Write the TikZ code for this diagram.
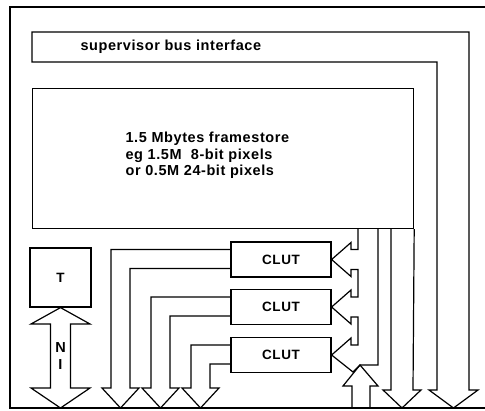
\documentclass[tikz,border=0pt]{standalone}
\usepackage{fontspec}
\newfontfamily\labelfont{Liberation Sans}[LetterSpace=4]
\usetikzlibrary{positioning, calc}
\tikzset{
    block/.style={rectangle, draw, inner sep=0pt, font=\labelfont\bfseries\fontsize{13.5}{16.5}\selectfont},
    caption/.style={inner sep=0pt, align=left, font=\labelfont\bfseries\fontsize{14.5}{16.5}\selectfont},
    wide arrow/.style={draw, line join=miter}
}

\begin{document}
\begin{tikzpicture}[x=1pt, y=-1pt, line width=1.2pt]
    \useasboundingbox (0,0) rectangle (485,410);
    % outer frame
    \draw (485,7) -- (10,7) -- (10,408) -- (485,408);

    % supervisor bus interface, bent down into an arrow
    \draw[wide arrow] (32,32) -- (469,32) -- (469,390) -- (478,390) -- (453.5,408)
        -- (429,390) -- (437,390) -- (437,62) -- (32,62) -- cycle;
    \node[caption, anchor=west] (sbi) at (80,47) {supervisor bus interface};

    % framestore and its output
    \node[block, minimum width=381pt, minimum height=140pt, anchor=north west] (fstore) at (32,88) {};
    \node[caption, anchor=west] (fstext) at (125,155.5) {1.5 Mbytes framestore\\eg 1.5M\ \ 8-bit pixels\\or 0.5M 24-bit pixels};
    \draw[wide arrow] (fstore.south east) -- (413,390) -- (421,390) -- (402,408) -- (383,390) -- (391,390) -- (391,228);

    % colour look-up tables
    \foreach \i/\y in {1/259.5, 2/307, 3/355}
        \node[block, minimum width=100pt, minimum height=35pt] (clut\i) at (281,\y) {CLUT};

    % bus feeding the CLUTs
    \draw[wide arrow] (358,228)
        -- (358,249.5) -- (351,249.5) -- (351,242.5) -- (clut1.east) -- (351,276.5) -- (351,269.5) -- (358,269.5)
        -- (358,297) -- (351,297) -- (351,290) -- (clut2.east) -- (351,324) -- (351,317) -- (358,317)
        -- (358,345) -- (351,345) -- (351,338) -- (clut3.east) -- (353,372) -- (360,365)
        -- (378,365) -- (378,228);
    \coordinate (busin) at (360,365);
    \draw[wide arrow] (352,408) -- (352,386) -- (343,386) -- (busin) -- (378,386) -- (370,386) -- (370,408);

    % CLUT outputs
    \foreach \i/\x in {1/120.5, 2/160.5, 3/200.5}
        \draw[wide arrow] ($(clut\i.west)+(0,-10)$) -| (\x-9.5,388) -- (\x-18.5,388) -- (\x,408)
            -- (\x+18.5,388) -- (\x+9.5,388) |- ($(clut\i.west)+(0,9)$);

    % T and its two-way link
    \node[block, minimum width=61pt, minimum height=59pt] (tbox) at (60.5,277.5) {T};
    \draw[wide arrow] (tbox.south) -- (90,324) -- (70.5,324) -- (70.5,388) -- (90,388) -- (60.5,408)
        -- (31,388) -- (50.5,388) -- (50.5,324) -- (31,324) -- cycle;
    \node[caption] (nlabel) at (60.5,348) {N};
    \node[caption] (ilabel) at (60.5,365) {I};
\end{tikzpicture}
\end{document}
